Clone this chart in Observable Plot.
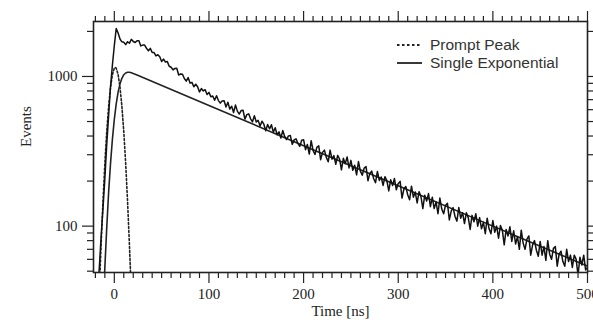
<!DOCTYPE html>
<html>
<head>
<meta charset="utf-8">
<script src="https://cdn.jsdelivr.net/npm/d3@7"></script>
<script src="https://cdn.jsdelivr.net/npm/@observablehq/plot@0.6"></script>
<style>
  html, body { margin: 0; padding: 0; background: #fff; }
  #wrap { position: relative; width: 593px; height: 323px; overflow: hidden; color: #222; }
  #legend { position: absolute; left: 397px; top: 36px; font-family: "Liberation Sans", Arial, sans-serif; font-size: 15.5px; color: #333; line-height: 18px; }
  #legend .row { display: flex; align-items: center; height: 18px; white-space: nowrap; }
  #legend svg { margin-right: 7px; }
</style>
</head>
<body>
<div id="wrap">
  <div id="chart"></div>
  <div id="legend"></div>
</div>
<script>
// ---- data ----
// measured histogram: bins every 2 ns from -20 ns to 500 ns
const binStart = -20, binStep = 2;
const events = [
  26, 35, 51, 84, 131, 208, 352, 552, 858, 1195,        // -20 .. -2
  1610, 2090, 1950, 1780, 1705, 1693, 1632, 1707, 1668, 1770, // 0 .. 18
  1713, 1686, 1734, 1730, 1600, 1620, 1622, 1544, 1484, 1540, // 20 .. 38
  1445, 1444, 1372, 1397, 1353, 1258, 1306, 1250, 1257, 1171, // 40 .. 58
  1153, 1106, 1132, 1134, 1022, 1040, 1035, 970, 931, 983,    // 60 .. 78
  903, 913, 854, 888, 853, 789, 831, 800, 816, 757,           // 80 .. 98
  783, 732, 741, 693, 744, 690, 664, 687, 688, 625,           // 100 .. 118
  672, 605, 633, 574, 644, 587, 561, 592, 595, 519,           // 120 .. 138
  556, 563, 521, 498, 546, 497, 509, 466, 502, 480,           // 140 .. 158
  434, 478, 447, 476, 425, 454, 408, 427, 388, 435,           // 160 .. 178
  397, 379, 401, 403, 352, 377, 383, 357, 341, 375,           // 180 .. 198
  378, 324, 351, 303, 372, 321, 301, 336, 344, 278,           // 200 .. 218
  311, 322, 288, 269, 322, 280, 296, 259, 297, 281,           // 220 .. 238
  238, 284, 261, 290, 245, 275, 236, 255, 220, 270,           // 240 .. 258
  233, 219, 244, 250, 201, 225, 233, 208, 195, 232,           // 260 .. 278
  202, 213, 187, 214, 201, 172, 204, 187, 208, 175,           // 280 .. 298
  193, 199, 154, 177, 184, 162, 150, 185, 156, 169,           // 300 .. 318
  143, 170, 158, 131, 161, 147, 165, 135, 156, 131,           // 320 .. 338
  145, 121, 154, 130, 121, 138, 142, 110, 126, 133,           // 340 .. 358
  116, 108, 133, 113, 123, 104, 123, 114, 95, 118,            // 360 .. 378
  107, 121, 100, 114, 96, 106, 89, 113, 96, 89,               // 380 .. 398
  109, 91, 100, 83, 101, 94, 75, 95, 86, 99,                  // 400 .. 418
  79, 93, 76, 85, 70, 94, 77, 70, 82, 86,                     // 420 .. 438
  64, 75, 80, 69, 63, 79, 64, 73, 59, 80,                     // 440 .. 458
  65, 60, 71, 73, 54, 65, 68, 58, 54, 70,                     // 460 .. 478
  58, 64, 53, 64, 60, 47, 62, 55, 64, 51,                     // 480 .. 498
  53                                                          // 500
];

// prompt peak (dotted)
const promptTime   = [-18, -16, -15, -14, -12, -10, -8, -6, -4, -2, 0, 1, 2, 4, 6, 8, 10, 12, 14, 16, 17, 18, 20];
const promptEvents = [14, 34, 51, 74, 146, 263, 428, 632, 849, 1030, 1137, 1150, 1137, 1030, 849, 632, 428, 263, 146, 74, 51, 34, 14];

// single exponential fit (solid)
const fitTime   = [-14, -12, -10, -8, -6, -4, -2, 0, 2, 4, 6, 8, 10, 12, 14, 16, 18, 20, 24, 100, 200, 300, 400, 500];
const fitEvents = [12, 27, 53, 98, 169, 263, 382, 518, 657, 786, 893, 972, 1027, 1055, 1066, 1066, 1060, 1047, 1024, 640, 345, 186, 100, 54];

// axes
const xMajorTicks = [0, 100, 200, 300, 400, 500];
const xMinorTicks = d3.range(-20, 501, 10).filter(v => v % 100 !== 0);
const yMajorTicks = [100, 1000];
const yMinorTicks = [50, 60, 70, 80, 90, 200, 300, 400, 500, 600, 700, 800, 900, 2000];
const xLabel = "Time [ns]";
const yLabel = "Events";
const seriesNames = ["Prompt Peak", "Single Exponential"];

// ---- tables ----
const measured = events.map((v, i) => ({t: binStart + i * binStep, v}));
const prompt = promptTime.map((t, i) => ({t, v: promptEvents[i]}));
const fit = fitTime.map((t, i) => ({t, v: fitEvents[i]}));

const serif = "'Liberation Serif', 'Times New Roman', serif";
const ink = "#222";
const axisCommon = {fontFamily: serif, fontSize: 15, label: null, stroke: ink, strokeWidth: 1.2, color: ink};

const chart = Plot.plot({
  width: 593,
  height: 323,
  marginLeft: 93,
  marginRight: 6,
  marginTop: 21,
  marginBottom: 51,
  style: {background: "#fff", color: ink},
  x: {domain: [-22, 500]},
  y: {type: "log", domain: [49, 2330]},
  marks: [
    // bottom axis
    Plot.axisX({...axisCommon, anchor: "bottom", ticks: xMajorTicks, tickSize: 11, tickPadding: 5, tickFormat: d3.format("d")}),
    Plot.axisX({...axisCommon, anchor: "bottom", ticks: xMinorTicks, tickSize: 6, tickFormat: () => ""}),
    // top axis
    Plot.axisX({...axisCommon, anchor: "top", ticks: xMajorTicks, tickSize: 11, tickFormat: () => ""}),
    Plot.axisX({...axisCommon, anchor: "top", ticks: xMinorTicks, tickSize: 6, tickFormat: () => ""}),
    // left axis
    Plot.axisY({...axisCommon, anchor: "left", ticks: yMajorTicks, tickSize: 11, tickPadding: 5, tickFormat: d3.format("d")}),
    Plot.axisY({...axisCommon, anchor: "left", ticks: yMinorTicks, tickSize: 6, tickFormat: () => ""}),
    // right axis
    Plot.axisY({...axisCommon, anchor: "right", ticks: yMajorTicks, tickSize: 11, tickFormat: () => ""}),
    Plot.axisY({...axisCommon, anchor: "right", ticks: yMinorTicks, tickSize: 6, tickFormat: () => ""}),
    // axis titles
    Plot.text([xLabel], {frameAnchor: "bottom", dy: 43, text: d => d, fontFamily: serif, fontSize: 15, fill: ink}),
    Plot.text([yLabel], {frameAnchor: "left", dx: -67, rotate: -90, text: d => d, fontFamily: serif, fontSize: 15, fill: ink}),
    // data
    Plot.line(prompt, {x: "t", y: "v", stroke: ink, strokeWidth: 1.6, strokeDasharray: "2,2", clip: true}),
    Plot.line(fit, {x: "t", y: "v", stroke: ink, strokeWidth: 1.6, clip: true}),
    Plot.line(measured, {x: "t", y: "v", stroke: "#111", strokeWidth: 1.5, strokeLinejoin: "round", clip: true}),
    Plot.frame({stroke: ink, strokeWidth: 1.6})
  ]
});
document.getElementById("chart").appendChild(chart);

// legend (inside the plot area, top right)
const legend = document.getElementById("legend");
seriesNames.forEach((name, i) => {
  const row = document.createElement("div");
  row.className = "row";
  const dash = i === 0 ? 'stroke-dasharray="2.5,2.5"' : "";
  row.innerHTML = `<svg width="26" height="18"><line x1="0" x2="25" y1="9" y2="9" stroke="${ink}" stroke-width="1.8" ${dash}/></svg><span>${name}</span>`;
  legend.appendChild(row);
});
</script>
</body>
</html>
